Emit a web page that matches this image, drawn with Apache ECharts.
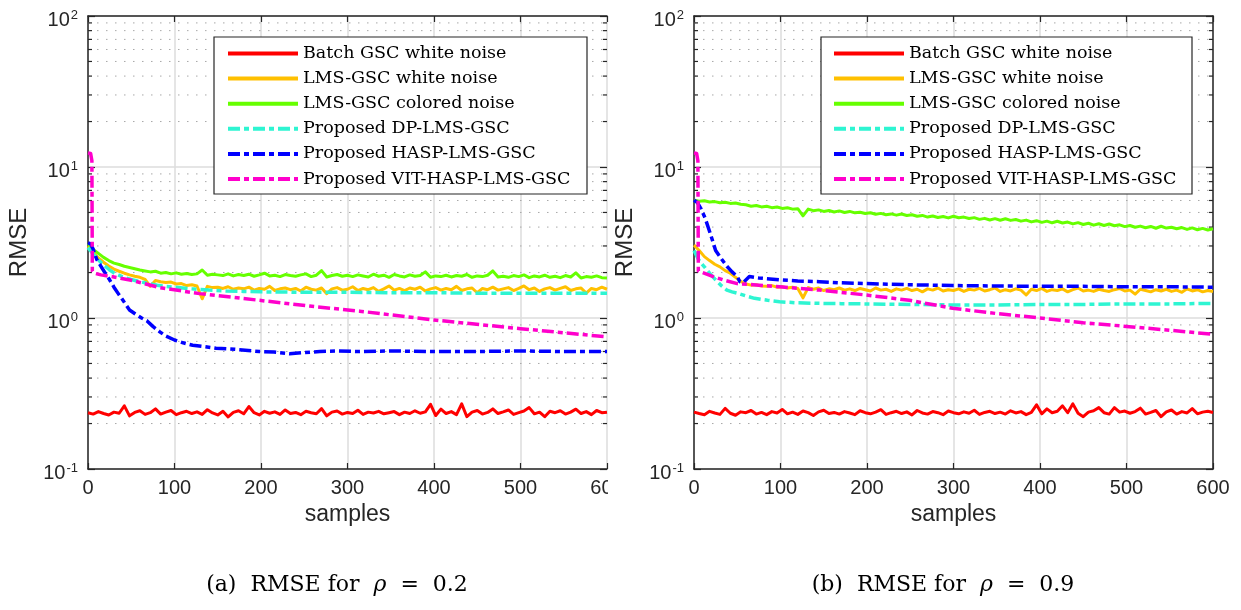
<!DOCTYPE html>
<html><head><meta charset="utf-8">
<script src="https://cdn.jsdelivr.net/npm/echarts@6/dist/echarts.min.js"></script>
<style>html,body{margin:0;padding:0;background:#fff}#c{width:1241px;height:610px}</style>
</head><body><div id="c"></div>
<script>
// ---------------- DATA ----------------
const SAMPLE_STEP = 6; // noisy curves are read every 6 samples (0..600)

// (a) rho = 0.2
const L_RED = [
0.236,0.231,0.240,0.233,0.228,0.238,0.234,0.262,0.225,0.237,
0.243,0.230,0.236,0.250,0.231,0.238,0.244,0.229,0.236,0.241,
0.233,0.239,0.230,0.247,0.235,0.228,0.241,0.221,0.237,0.243,
0.232,0.259,0.236,0.228,0.241,0.234,0.239,0.230,0.246,0.233,
0.237,0.229,0.241,0.236,0.232,0.251,0.225,0.238,0.242,0.231,
0.237,0.233,0.245,0.230,0.238,0.235,0.241,0.232,0.236,0.240,
0.229,0.238,0.233,0.243,0.234,0.239,0.268,0.226,0.249,0.233,
0.240,0.229,0.270,0.222,0.238,0.244,0.231,0.237,0.250,0.233,
0.239,0.246,0.230,0.236,0.242,0.255,0.232,0.238,0.222,0.241,
0.236,0.243,0.231,0.238,0.249,0.233,0.240,0.229,0.244,0.236,
0.238];
const L_YEL = [
3.00,2.72,2.50,2.34,2.21,2.11,2.04,1.98,1.93,1.89,
1.86,1.80,1.62,1.77,1.74,1.72,1.73,1.68,1.69,1.64,
1.66,1.63,1.34,1.62,1.59,1.60,1.57,1.61,1.55,1.58,
1.56,1.60,1.53,1.57,1.55,1.62,1.52,1.56,1.58,1.54,
1.57,1.51,1.60,1.55,1.53,1.58,1.45,1.56,1.59,1.53,
1.55,1.61,1.52,1.57,1.54,1.59,1.50,1.56,1.63,1.53,
1.57,1.52,1.58,1.55,1.60,1.51,1.56,1.59,1.53,1.57,
1.54,1.62,1.52,1.56,1.58,1.47,1.57,1.54,1.60,1.53,
1.56,1.59,1.52,1.57,1.63,1.54,1.58,1.50,1.56,1.59,
1.53,1.57,1.61,1.52,1.56,1.58,1.46,1.57,1.54,1.60,
1.55];
const L_GRN = [
3.10,2.85,2.68,2.52,2.40,2.31,2.26,2.20,2.16,2.12,
2.08,2.05,2.02,2.04,1.98,2.00,1.96,1.99,1.95,1.97,
1.94,1.96,2.08,1.92,1.95,1.93,1.91,1.96,1.90,1.94,
1.91,1.95,1.89,1.93,1.98,1.90,1.92,1.88,1.94,1.91,
1.89,1.93,1.96,1.88,1.92,2.06,1.87,1.91,1.94,1.89,
1.92,1.88,1.93,1.90,1.87,1.95,1.89,1.92,1.86,1.94,
1.90,1.87,1.93,1.89,1.91,2.02,1.86,1.90,1.88,1.92,
1.87,1.91,1.89,1.94,1.86,1.90,1.88,1.92,2.05,1.87,
1.89,1.86,1.91,1.88,1.93,1.85,1.90,1.87,1.92,1.86,
1.89,1.85,1.91,1.87,1.99,1.84,1.88,1.86,1.90,1.85,
1.84];
const L_CYAN_X = [0,5,10,15,20,25,30,40,50,60,70,80,90,100,120,140,160,180,200,250,300,350,400,450,500,550,600];
const L_CYAN_Y = [2.92,2.70,2.50,2.33,2.20,2.08,1.99,1.87,1.80,1.74,1.69,1.65,1.62,1.60,1.56,1.53,1.51,1.50,1.49,1.48,1.48,1.47,1.47,1.46,1.46,1.46,1.46];
const L_BLUE_X = [0,3,6,10,15,20,25,30,35,40,48,55,62,68,75,83,90,100,110,121,135,148,170,198,215,233,250,268,290,314,350,400,450,500,550,600];
const L_BLUE_Y = [3.15,3.10,2.85,2.45,2.20,1.98,1.79,1.60,1.45,1.32,1.13,1.06,1.00,0.96,0.88,0.81,0.76,0.715,0.685,0.66,0.645,0.63,0.62,0.60,0.595,0.58,0.59,0.60,0.605,0.60,0.605,0.60,0.60,0.605,0.60,0.60];
const L_MAG_X = [0,3,4.5,5,7,15,30,50,83,129,198,256,314,400,500,600];
const L_MAG_Y = [12.4,12.3,11.0,2.05,1.98,1.93,1.87,1.78,1.59,1.45,1.31,1.20,1.11,0.97,0.85,0.75];

// (b) rho = 0.9
const R_RED = [
0.238,0.233,0.229,0.241,0.235,0.230,0.252,0.234,0.227,0.239,
0.236,0.244,0.231,0.237,0.229,0.240,0.235,0.248,0.232,0.238,
0.230,0.242,0.236,0.226,0.239,0.245,0.233,0.237,0.231,0.240,
0.235,0.229,0.243,0.236,0.232,0.238,0.247,0.230,0.236,0.241,
0.233,0.239,0.228,0.244,0.235,0.231,0.240,0.236,0.229,0.242,
0.236,0.232,0.239,0.234,0.245,0.230,0.237,0.241,0.233,0.238,
0.231,0.243,0.235,0.240,0.229,0.237,0.266,0.232,0.250,0.236,
0.241,0.262,0.236,0.270,0.234,0.222,0.238,0.243,0.255,0.236,
0.231,0.255,0.238,0.242,0.234,0.240,0.253,0.231,0.237,0.244,
0.222,0.239,0.246,0.231,0.240,0.235,0.251,0.232,0.238,0.241,
0.237];
const R_YEL = [
3.04,2.80,2.55,2.40,2.27,2.18,2.06,1.98,1.86,1.75,
1.68,1.65,1.66,1.63,1.62,1.64,1.60,1.61,1.58,1.60,
1.57,1.36,1.59,1.55,1.58,1.52,1.56,1.54,1.58,1.53,
1.56,1.52,1.57,1.54,1.51,1.58,1.53,1.55,1.50,1.56,
1.53,1.57,1.52,1.55,1.49,1.56,1.53,1.58,1.51,1.54,
1.52,1.56,1.50,1.55,1.53,1.57,1.51,1.54,1.58,1.50,
1.54,1.51,1.56,1.53,1.42,1.55,1.52,1.57,1.50,1.54,
1.52,1.56,1.49,1.54,1.58,1.51,1.53,1.50,1.55,1.52,
1.50,1.54,1.57,1.51,1.53,1.44,1.55,1.52,1.49,1.54,
1.51,1.55,1.50,1.53,1.48,1.56,1.51,1.54,1.49,1.52,
1.50];
const R_GRN = [
6.02,5.93,5.98,5.86,5.90,5.80,5.84,5.74,5.78,5.66,
5.62,5.50,5.56,5.44,5.49,5.38,5.43,5.32,5.37,5.26,
5.30,4.75,5.26,5.14,5.20,5.08,5.15,5.04,5.12,5.00,
5.08,4.97,5.02,4.92,4.98,4.87,4.93,4.83,4.89,4.80,
4.88,4.77,4.83,4.72,4.78,4.66,4.74,4.63,4.70,4.60,
4.72,4.61,4.66,4.56,4.62,4.50,4.57,4.46,4.55,4.44,
4.54,4.43,4.49,4.38,4.45,4.33,4.41,4.30,4.38,4.27,
4.37,4.26,4.32,4.20,4.28,4.16,4.24,4.12,4.21,4.10,
4.19,4.08,4.14,4.03,4.10,3.99,4.06,3.96,4.04,3.93,
4.05,3.94,3.99,3.90,3.97,3.86,3.95,3.84,3.92,3.83,
3.90];
const R_CYAN_X = [0,5,10,13,18,25,32,38,44,50,60,70,85,99,120,145,170,199,250,299,350,400,450,500,550,600];
const R_CYAN_Y = [2.80,2.45,2.25,2.15,1.98,1.79,1.63,1.53,1.49,1.46,1.40,1.35,1.31,1.28,1.26,1.25,1.245,1.24,1.23,1.22,1.22,1.23,1.23,1.24,1.24,1.25];
const R_BLUE_X = [0,4,8,13,19,25,32,38,44,50,53,57,64,75,99,120,145,170,199,250,299,350,400,450,500,550,600];
const R_BLUE_Y = [6.04,5.80,5.30,4.57,3.60,2.80,2.45,2.20,2.02,1.88,1.74,1.72,1.88,1.84,1.79,1.76,1.74,1.71,1.69,1.66,1.64,1.63,1.62,1.62,1.61,1.61,1.60];
const R_MAG_X = [0,3,4.5,5,7,20,35,50,75,99,145,199,249,299,350,400,450,500,550,600];
const R_MAG_Y = [12.4,12.3,11.0,2.05,2.02,1.90,1.78,1.69,1.65,1.61,1.53,1.42,1.31,1.16,1.07,1.00,0.93,0.88,0.83,0.78];

const SERIES_NAMES = ['Batch GSC white noise','LMS-GSC white noise','LMS-GSC colored noise',
  'Proposed DP-LMS-GSC','Proposed HASP-LMS-GSC','Proposed VIT-HASP-LMS-GSC'];
const Y_MINOR = [0.2,0.3,0.4,0.5,0.6,0.7,0.8,0.9,2,3,4,5,6,7,8,9,20,30,40,50,60,70,80,90];
const X_NAME = 'samples';
const Y_NAME = 'RMSE';
const CAPTIONS = ['(a)  RMSE for  {i|ρ}  =  0.2', '(b)  RMSE for  {i|ρ}  =  0.9'];

// ---------------- STYLE ----------------
const DASHDOT = [12, 4, 5, 4];
const STYLES = [
  {color:'#FF0000', width:3, type:'solid'},
  {color:'#FFC000', width:3, type:'solid'},
  {color:'#66FF00', width:3, type:'solid'},
  {color:'#2EF5D2', width:3.5, type:DASHDOT},
  {color:'#0000FF', width:3.5, type:DASHDOT},
  {color:'#FF00CC', width:3.5, type:DASHDOT}
];
const AX = '#262626';
const SANS = 'Liberation Sans';
const SERIF = 'DejaVu Serif';
const GRIDS = [{left:88, top:16, width:519, height:453, rightLine:false},
               {left:694, top:16, width:519, height:453, rightLine:true}];

const noisy = arr => arr.map((v,i) => [i*SAMPLE_STEP, v]);
const pairs = (xs, ys) => xs.map((x,i) => [x, ys[i]]);

const DATASETS = [
  [noisy(L_RED), noisy(L_YEL), noisy(L_GRN), pairs(L_CYAN_X,L_CYAN_Y), pairs(L_BLUE_X,L_BLUE_Y), pairs(L_MAG_X,L_MAG_Y)],
  [noisy(R_RED), noisy(R_YEL), noisy(R_GRN), pairs(R_CYAN_X,R_CYAN_Y), pairs(R_BLUE_X,R_BLUE_Y), pairs(R_MAG_X,R_MAG_Y)]
];

const xAxis = [], yAxis = [], series = [], legend = [], graphic = [];
GRIDS.forEach((g, k) => {
  xAxis.push({type:'value', gridIndex:k, min:0, max:600, interval:100, position:'bottom',
    name:X_NAME, nameLocation:'middle', nameGap:27,
    nameTextStyle:{fontFamily:SANS, fontSize:23, color:AX},
    axisLine:{show:true, onZero:false, lineStyle:{color:AX, width:1.5}},
    axisTick:{show:true, inside:true, length:6, lineStyle:{color:AX, width:1.2}},
    axisLabel:{fontFamily:SANS, fontSize:20, color:AX, margin:9},
    splitLine:{show:true, lineStyle:{color:'#dcdcdc', width:1.5}}});
  xAxis.push({type:'value', gridIndex:k, min:0, max:600, interval:100, position:'top',
    axisLine:{show:true, onZero:false, lineStyle:{color:AX, width:1.5}},
    axisTick:{show:true, inside:true, length:6, lineStyle:{color:AX, width:1.2}},
    axisLabel:{show:false}, splitLine:{show:false}});
  yAxis.push({type:'log', logBase:10, gridIndex:k, min:0.1, max:100, position:'left',
    name:Y_NAME, nameLocation:'middle', nameGap:57,
    nameTextStyle:{fontFamily:SANS, fontSize:24, color:AX},
    axisLine:{show:true, onZero:false, lineStyle:{color:AX, width:1.5}},
    axisTick:{show:true, inside:true, length:7, lineStyle:{color:AX, width:1.2}},
    axisLabel:{margin:10, formatter: v => '{b|10}{s|' + Math.round(Math.log10(v)) + '}',
      rich:{b:{fontFamily:SANS, fontSize:20, color:AX, lineHeight:20, padding:[8,0,0,0]},
            s:{fontFamily:SANS, fontSize:13, color:AX, lineHeight:13, verticalAlign:'top', padding:[3,0,0,1]}}},
    splitLine:{show:true, lineStyle:{color:'#dcdcdc', width:1.5}}});
  yAxis.push({type:'log', logBase:10, gridIndex:k, min:0.1, max:100, position:'right',
    axisLine:{show:g.rightLine, onZero:false, lineStyle:{color:AX, width:1.5}},
    axisTick:{show:true, inside:true, length:7, lineStyle:{color:AX, width:1.2}},
    axisLabel:{show:false}, splitLine:{show:false}});

  // minor dotted grid + minor ticks
  series.push({type:'custom', xAxisIndex:2*k, yAxisIndex:2*k, z:1, silent:true, clip:false,
    data: Y_MINOR.map(v => [0, v]),
    renderItem: (params, api) => {
      const v = api.value(1);
      const a = api.coord([0, v]), b = api.coord([600, v]);
      return {type:'group', children:[
        {type:'line', shape:{x1:a[0], y1:a[1], x2:b[0], y2:b[1]}, style:{stroke:'#a8a8a8', lineWidth:1, lineDash:[1.5,7.5]}},
        {type:'line', shape:{x1:a[0], y1:a[1], x2:a[0]+4, y2:a[1]}, style:{stroke:AX, lineWidth:1.2}},
        {type:'line', shape:{x1:b[0]-4, y1:b[1], x2:b[0], y2:b[1]}, style:{stroke:AX, lineWidth:1.2}}
      ]};
    }});

  DATASETS[k].forEach((d, i) => {
    const s = STYLES[i];
    series.push({type:'line', name:SERIES_NAMES[i], xAxisIndex:2*k, yAxisIndex:2*k,
      data:d, showSymbol:false, symbol:'none', color:s.color, z:2+i*0.1,
      lineStyle:{color:s.color, width:s.width, type:s.type, cap:'butt', join:'round'},
      emphasis:{disabled:true}});
  });

  legend.push({data:SERIES_NAMES, orient:'vertical', left: k ? 832 : 226, top:44.5, padding:0,
    itemWidth:70, itemHeight:14, itemGap:7.1, selectedMode:false, z:10,
    lineStyle:{width:4, opacity:1}, itemStyle:{opacity:0},
    textStyle:{fontFamily:SERIF, fontSize:17.5, color:'#000'}});
});

graphic.push({type:'rect', z:6, shape:{x:214, y:37, width:373, height:157}, style:{fill:'#fff', stroke:AX, lineWidth:1.2}});
graphic.push({type:'rect', z:6, shape:{x:821, y:37, width:371, height:157}, style:{fill:'#fff', stroke:AX, lineWidth:1.2}});
// the left panel is cropped at its right edge in the source figure
graphic.push({type:'rect', z:20, shape:{x:608, y:474, width:30, height:28}, style:{fill:'#fff'}});
[337, 943].forEach((cx, k) => {
  graphic.push({type:'text', z:20, x:cx, y:585, style:{text:CAPTIONS[k], fill:'#000',
    font:'22px "DejaVu Serif"', align:'center', verticalAlign:'middle',
    rich:{i:{fontStyle:'italic', fontFamily:SERIF, fontSize:22, fill:'#000'}}}});
});

const chart = echarts.init(document.getElementById('c'), null, {renderer:'canvas'});
chart.setOption({
  animation:false, backgroundColor:'#fff',
  grid: GRIDS.map(g => ({left:g.left, top:g.top, width:g.width, height:g.height, containLabel:false})),
  xAxis, yAxis, series, legend, graphic
});
</script></body></html>
